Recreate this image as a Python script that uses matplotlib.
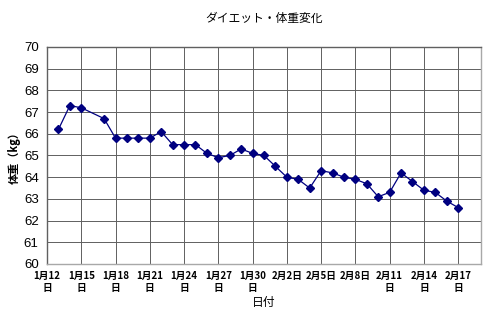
import matplotlib
matplotlib.use('Agg')
import matplotlib.pyplot as plt
import pandas as pd

plt.rcParams['font.family'] = ['Noto Sans CJK JP', 'DejaVu Sans']

# ====================== Data ======================
dates = ['01-13', '01-14', '01-15', '01-17', '01-18', '01-19', '01-20', '01-21',
         '01-22', '01-23', '01-24', '01-25', '01-26', '01-27', '01-28', '01-29',
         '01-30', '01-31', '02-01', '02-02', '02-03', '02-04', '02-05', '02-06',
         '02-07', '02-08', '02-09', '02-10', '02-11', '02-12', '02-13', '02-14',
         '02-15', '02-16', '02-17']
weights = [66.2, 67.3, 67.2, 66.7, 65.8, 65.8, 65.8, 65.8,
           66.1, 65.5, 65.5, 65.5, 65.1, 64.9, 65.0, 65.3,
           65.1, 65.0, 64.5, 64.0, 63.9, 63.5, 64.3, 64.2,
           64.0, 63.9, 63.7, 63.1, 63.3, 64.2, 63.8, 63.4,
           63.3, 62.9, 62.6]
tick_dates = ['01-12', '01-15', '01-18', '01-21', '01-24', '01-27', '01-30',
              '02-02', '02-05', '02-08', '02-11', '02-14', '02-17']
tick_labels = ['1月12\n日', '1月15\n日', '1月18\n日', '1月21\n日', '1月24\n日',
               '1月27\n日', '1月30\n日', '2月2日', '2月5日', '2月8日',
               '2月11\n日', '2月14\n日', '2月17\n日']

x = pd.to_datetime(['2009-' + d for d in dates])
xt = pd.to_datetime(['2009-' + d for d in tick_dates])

# ====================== Plot ======================
fig = plt.figure(figsize=(5.0, 3.12), dpi=100)
ax = fig.add_axes([47 / 500, 1 - 264 / 312, 434 / 500, 217 / 312])

ax.plot(x, weights, color='#000080', linewidth=0.9,
        marker='D', markersize=3.6, markerfacecolor='#000080', markeredgecolor='#000080')

ax.set_xlim(pd.Timestamp('2009-01-12'), pd.Timestamp('2009-02-19'))
ax.set_ylim(60, 70)
ax.set_yticks(range(60, 71))
ax.set_xticks(xt)
ax.set_xticklabels(tick_labels, fontsize=7, fontweight='bold', linespacing=1.3)
ax.tick_params(axis='y', labelsize=9.5, length=0, pad=6)
ax.tick_params(axis='x', length=0, pad=5)
for lab in ax.get_yticklabels():
    lab.set_family(['Liberation Sans', 'DejaVu Sans'])

ax.grid(True, color='#606060', linewidth=0.7)
ax.set_axisbelow(True)
for s in ax.spines.values():
    s.set_color('#a8a8a8')
    s.set_linewidth(1.0)
ax.spines['left'].set_color('#606060')
ax.spines['top'].set_color('#606060')

ax.set_title('ダイエット・体重変化', fontsize=8.5, pad=18)
ax.set_xlabel('日付', fontsize=8.5, labelpad=2)
ax.set_ylabel('体重（kg）', fontsize=8, fontweight='bold', labelpad=2)

fig.savefig('out.png', dpi=100)
